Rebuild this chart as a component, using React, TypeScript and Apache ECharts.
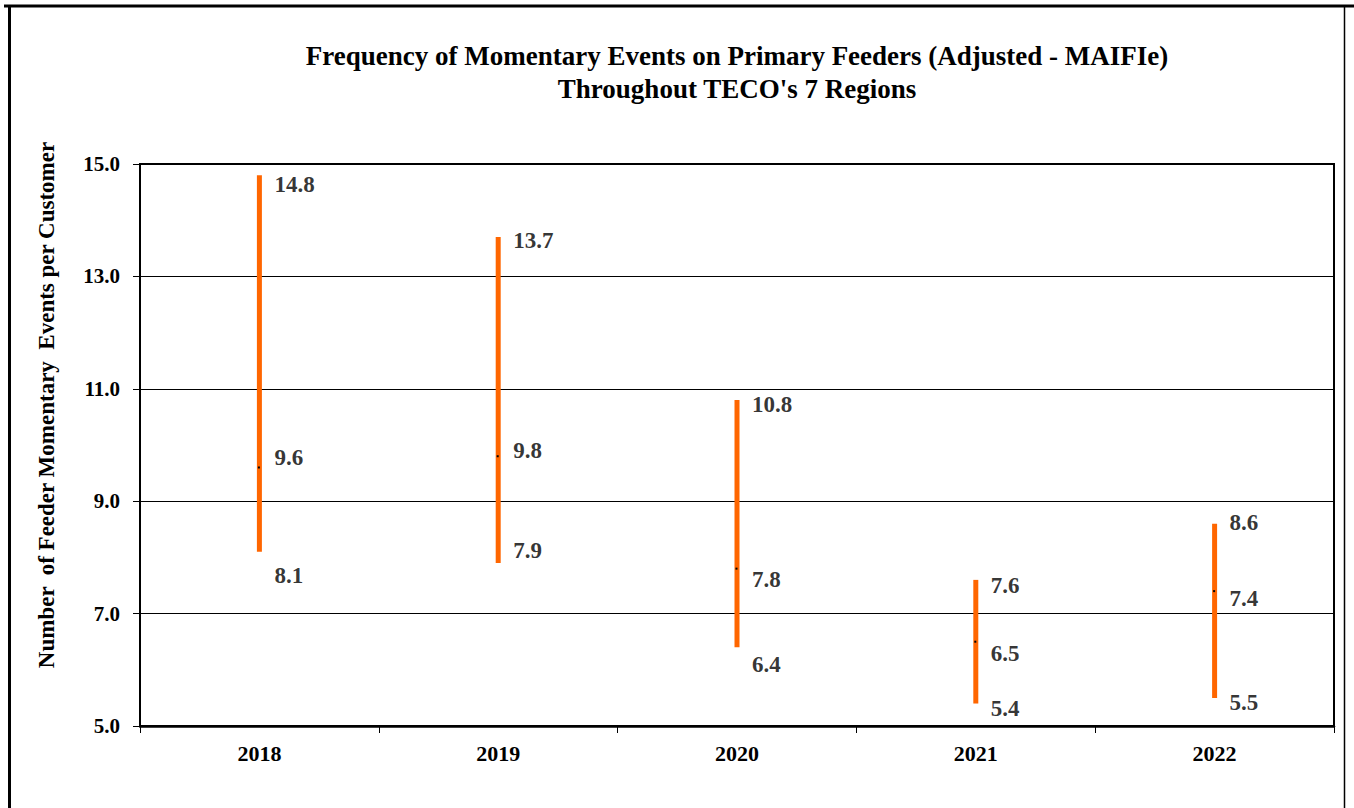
import React, { useEffect, useRef } from "react";
import * as echarts from "echarts";

const years = ["2018", "2019", "2020", "2021", "2022"];
const highValues = [14.8, 13.7, 10.8, 7.6, 8.6];
const midValues = [9.6, 9.8, 7.8, 6.5, 7.4];
const lowValues = [8.1, 7.9, 6.4, 5.4, 5.5];
const yTicks = { min: 5, max: 15, interval: 2 };

// vertical nudges of the value labels (px), as placed in the original
const highNudge = [9, 3, 4, 6, -1];
const midNudge = [-10, -6, 11, 12, 7];
const lowNudge = [24, -13, 17, 5, 5];

const FONT = "'Liberation Serif', 'Times New Roman', serif";

function labelSeries(name: string, values: number[], nudge: number[]) {
  return {
    type: "scatter",
    name,
    symbolSize: 0,
    silent: true,
    z: 5,
    data: values.map((v, i) => ({
      value: [i, v],
      label: { offset: [0, nudge[i]] },
    })),
    label: {
      show: true,
      position: "right",
      distance: 15,
      formatter: (p: any) => Number(p.value[1]).toFixed(1),
      fontFamily: FONT,
      fontWeight: "bold",
      fontSize: 23,
      color: "#000",
    },
  };
}

export default function App() {
  const ref = useRef<HTMLDivElement>(null);
  useEffect(() => {
    if (!ref.current) return;
    const chart = echarts.init(ref.current, null, { renderer: "svg" });
    chart.setOption({
      animation: false,
      backgroundColor: "#fff",
      grid: {
        left: 140,
        right: 20,
        top: 164,
        bottom: 82,
        show: true,
        borderColor: "#000",
        borderWidth: 2,
        backgroundColor: "transparent",
      },
      title: {
        text: "Frequency of Momentary Events on Primary Feeders (Adjusted - MAIFIe)\nThroughout TECO's 7 Regions",
        left: 732,
        textAlign: "center",
        top: 34,
        textStyle: {
          fontFamily: FONT,
          fontWeight: "bold",
          fontSize: 27,
          lineHeight: 33,
          color: "#000",
        },
      },
      graphic: [
        {
          type: "line",
          shape: { x1: 4, y1: 6, x2: 1354, y2: 6 },
          style: { stroke: "#000", lineWidth: 3 },
        },
        {
          type: "line",
          shape: { x1: 9.5, y1: 6, x2: 9.5, y2: 808 },
          style: { stroke: "#000", lineWidth: 3 },
        },
        {
          type: "line",
          shape: { x1: 1344.5, y1: 6, x2: 1344.5, y2: 808 },
          style: { stroke: "#000", lineWidth: 1.5 },
        },
        {
          type: "text",
          x: 46,
          y: 405,
          rotation: Math.PI / 2,
          style: {
            text: "Number  of Feeder Momentary  Events per Customer",
            fontFamily: FONT,
            fontWeight: "bold",
            fontSize: 23,
            fill: "#000",
            align: "center",
            verticalAlign: "middle",
          },
        },
      ],
      xAxis: {
        type: "category",
        data: years,
        boundaryGap: true,
        axisLine: { show: true, lineStyle: { color: "#000", width: 2.5 } },
        axisTick: { show: true, interval: 0, length: 7, lineStyle: { color: "#000", width: 1 } },
        axisLabel: {
          margin: 16,
          fontFamily: FONT,
          fontWeight: "bold",
          fontSize: 22,
          color: "#000",
        },
        splitLine: { show: false },
      },
      yAxis: {
        type: "value",
        min: yTicks.min,
        max: yTicks.max,
        interval: yTicks.interval,
        axisLine: { show: true, lineStyle: { color: "#000", width: 2 } },
        axisTick: { show: true, length: 7, lineStyle: { color: "#000", width: 1 } },
        axisLabel: {
          margin: 20,
          formatter: (v: number) => v.toFixed(1),
          fontFamily: FONT,
          fontWeight: "bold",
          fontSize: 21,
          color: "#000",
        },
        splitLine: { show: true, lineStyle: { color: "#000", width: 1 } },
      },
      series: [
        {
          type: "custom",
          name: "range",
          z: 3,
          data: years.map((_, i) => [i, lowValues[i], highValues[i], midValues[i]]),
          encode: { x: 0, y: [1, 2] },
          renderItem: (params: any, api: any) => {
            const x = api.value(0);
            const lo = api.coord([x, api.value(1)]);
            const hi = api.coord([x, api.value(2)]);
            const mid = api.coord([x, api.value(3)]);
            return {
              type: "group",
              children: [
                {
                  type: "line",
                  shape: { x1: lo[0], y1: lo[1], x2: hi[0], y2: hi[1] },
                  style: { stroke: "#FF6600", lineWidth: 5 },
                },
                {
                  type: "rect",
                  shape: { x: mid[0] - 1.5, y: mid[1] - 1, width: 2, height: 2 },
                  style: { fill: "#000" },
                },
              ],
            };
          },
        },
        labelSeries("high", highValues, highNudge),
        labelSeries("mid", midValues, midNudge),
        labelSeries("low", lowValues, lowNudge),
      ],
    });
    return () => chart.dispose();
  }, []);
  return (
    <div
      ref={ref}
      style={{ position: "fixed", left: 0, top: 0, width: 1354, height: 808 }}
    />
  );
}
